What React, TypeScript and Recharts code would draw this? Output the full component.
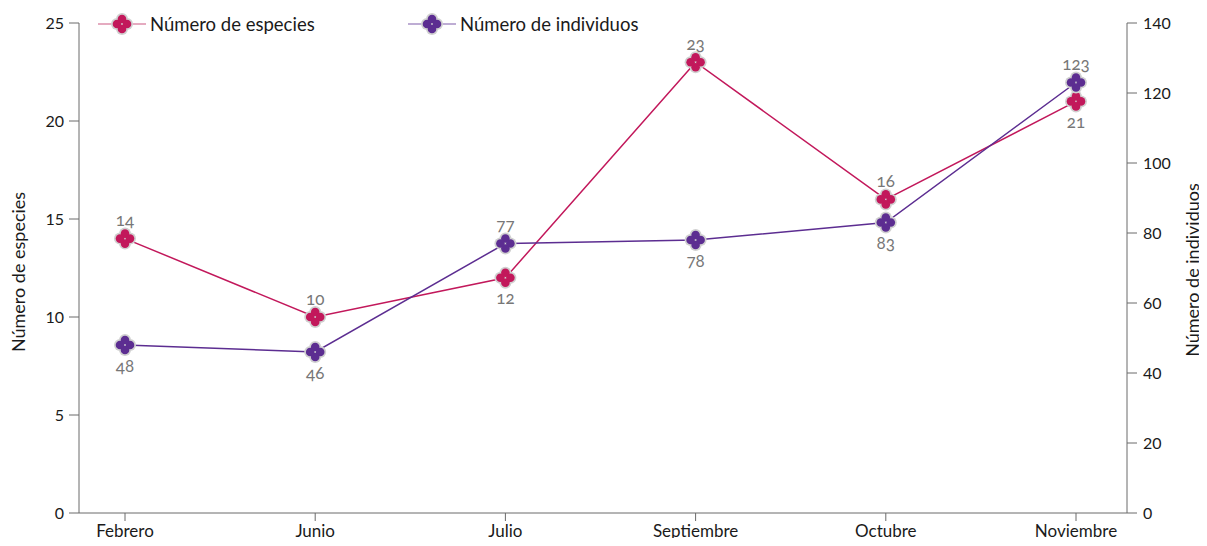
import React from 'react';
import { LineChart, Line, XAxis, YAxis, LabelList } from 'recharts';

// Muestreos mensuales
const months = ['Febrero', 'Junio', 'Julio', 'Septiembre', 'Octubre', 'Noviembre'];
const especies = [14, 10, 12, 23, 16, 21];
const individuos = [48, 46, 77, 78, 83, 123];
const especiesTicks = [0, 5, 10, 15, 20, 25];
const individuosTicks = [0, 20, 40, 60, 80, 100, 120, 140];
const especiesMax = 25;
const individuosMax = 140;

const data = months.map((month, i) => ({
  month,
  especies: especies[i],
  individuos: individuos[i],
}));

const FONT = 'Lato, "Open Sans", sans-serif';
const AXIS = '#6b6b6b';
const C_ESP = '#c2185b';
const C_IND = '#5c2d91';
const W = 1199;
const H = 535;

const series = [
  { key: 'especies', name: 'Número de especies', color: C_ESP, legendLine: '#dc8fab' },
  { key: 'individuos', name: 'Número de individuos', color: C_IND, legendLine: '#a892c6' },
];

// four-petal marker with a soft grey rim
const Flower = ({ cx, cy, color }: { cx: number; cy: number; color: string }) => {
  const d = 5;
  const offs = [
    [0, -d],
    [d, 0],
    [0, d],
    [-d, 0],
  ];
  return (
    <g>
      {offs.map(([ox, oy], i) => (
        <circle key={'h' + i} cx={cx + ox} cy={cy + oy} r={6} fill="#d0d0d0" />
      ))}
      {offs.map(([ox, oy], i) => (
        <circle key={'p' + i} cx={cx + ox} cy={cy + oy} r={4.3} fill={color} />
      ))}
    </g>
  );
};

const makeDot = (color: string) => (props: any) => {
  const { cx, cy, index } = props;
  if (cx == null || cy == null) return <g key={'d' + index} />;
  return (
    <g key={'d' + index}>
      <Flower cx={cx} cy={cy} color={color} />
    </g>
  );
};

// the label sits on the side away from the other series' point
const makeLabel = (which: 'especies' | 'individuos') => (props: any) => {
  const { x, y, index, value } = props;
  const se = especies[index] / especiesMax;
  const si = individuos[index] / individuosMax;
  const above = which === 'especies' ? se >= si : si > se;
  return (
    <text
      key={'l' + index}
      x={x}
      y={above ? y - 19 : y + 20}
      textAnchor="middle"
      dominantBaseline="central"
      fill="#777"
      fontSize={17}
      fontFamily={FONT}
      style={{ fontVariantNumeric: 'oldstyle-nums' }}
    >
      {value}
    </text>
  );
};

const tickStyle = { fill: '#1a1a1a', fontSize: 16, fontFamily: FONT, fontVariantNumeric: 'oldstyle-nums' } as any;

const AxisTitle = ({ x, y, text }: { x: number; y: number; text: string }) => (
  <text
    x={x}
    y={y}
    transform={`rotate(-90, ${x}, ${y})`}
    textAnchor="middle"
    dominantBaseline="central"
    fontSize={18}
    fontFamily={FONT}
    fill="#1a1a1a"
  >
    {text}
  </text>
);

const Overlay = () => (
  <svg
    width={W}
    height={H}
    style={{ position: 'absolute', left: 0, top: 0, pointerEvents: 'none', display: 'block' }}
  >
    {series.map((s, i) => {
      const cx = i === 0 ? 114 : 424;
      const cy = 16;
      return (
        <g key={s.key}>
          <line x1={cx - 24} x2={cx + 24} y1={cy} y2={cy} stroke={s.legendLine} strokeWidth={1.5} />
          <Flower cx={cx} cy={cy} color={s.color} />
          <text
            x={cx + 28}
            y={cy}
            dominantBaseline="central"
            fontSize={18.5}
            fontFamily={FONT}
            fill="#1a1a1a"
          >
            {s.name}
          </text>
        </g>
      );
    })}
    <AxisTitle x={10} y={264} text="Número de especies" />
    <AxisTitle x={1184} y={262} text="Número de individuos" />
  </svg>
);

export default function App() {
  return (
    <div style={{ position: 'relative', width: W, height: 530 }}>
      <div style={{ position: 'absolute', left: 0, top: 0, width: W, height: H, overflow: 'hidden' }}>
        <LineChart
          width={W}
          height={H}
          data={data}
          margin={{ top: 15, right: 0, bottom: 0, left: 0 }}
        >
          <XAxis
            dataKey="month"
            padding={{ left: 46, right: 51 }}
            tickSize={8}
            tickMargin={4}
            height={30}
            stroke={AXIS}
            tick={{ fill: '#1a1a1a', fontSize: 17, fontFamily: FONT }}
            interval={0}
          />
          <YAxis
            yAxisId="left"
            orientation="left"
            width={71}
            domain={[0, especiesMax]}
            ticks={especiesTicks}
            tickSize={10}
            tickMargin={5}
            stroke={AXIS}
            tick={tickStyle}
          />
          <YAxis
            yAxisId="right"
            orientation="right"
            width={80}
            domain={[0, individuosMax]}
            ticks={individuosTicks}
            tickSize={10}
            tickMargin={6}
            stroke={AXIS}
            tick={tickStyle}
          />
          <Line
            yAxisId="left"
            type="linear"
            dataKey="especies"
            name="Número de especies"
            stroke={C_ESP}
            strokeWidth={1.5}
            dot={makeDot(C_ESP)}
            activeDot={false}
            isAnimationActive={false}
          >
            <LabelList dataKey="especies" content={makeLabel('especies')} />
          </Line>
          <Line
            yAxisId="right"
            type="linear"
            dataKey="individuos"
            name="Número de individuos"
            stroke={C_IND}
            strokeWidth={1.5}
            dot={makeDot(C_IND)}
            activeDot={false}
            isAnimationActive={false}
          >
            <LabelList dataKey="individuos" content={makeLabel('individuos')} />
          </Line>
        </LineChart>
        <Overlay />
      </div>
    </div>
  );
}
